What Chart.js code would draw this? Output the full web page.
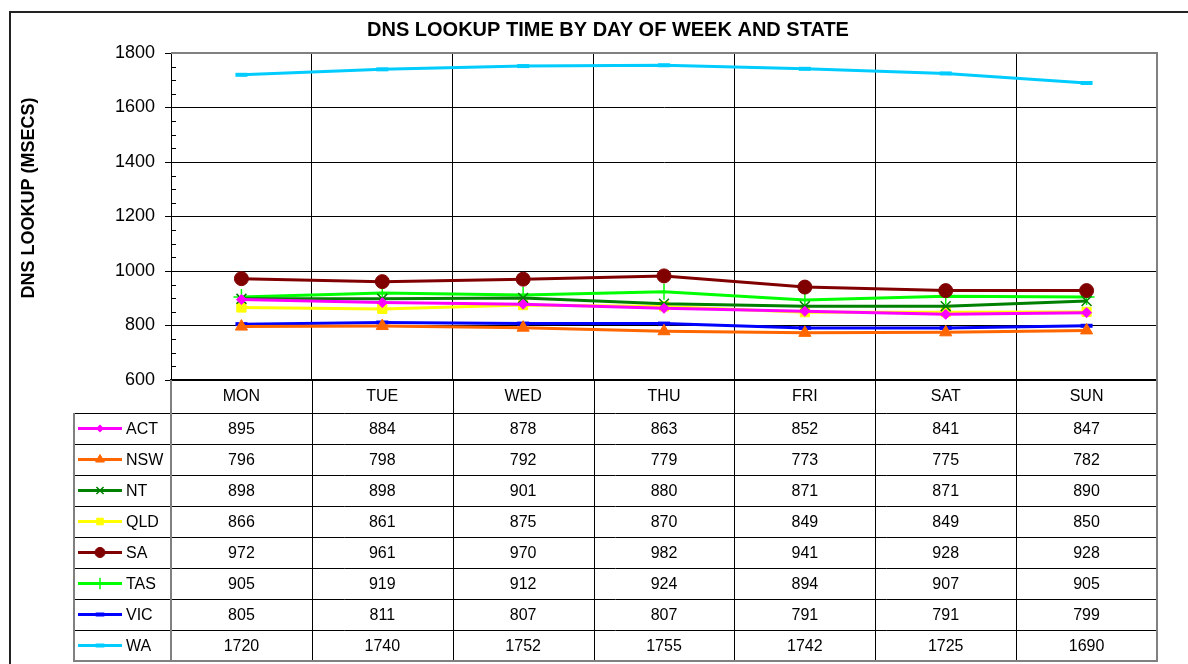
<!DOCTYPE html>
<html>
<head>
<meta charset="utf-8">
<script src="https://cdn.jsdelivr.net/npm/chart.js@4.4.1/dist/chart.umd.min.js"></script>
<style>
  html, body { margin: 0; padding: 0; background: #fff; }
  #wrap { width: 1188px; height: 664px; }
</style>
</head>
<body>
<div id="wrap"><canvas id="chart" width="1188" height="664"></canvas></div>
<script>
// data
const days = ['MON', 'TUE', 'WED', 'THU', 'FRI', 'SAT', 'SUN'];
const act = [895, 884, 878, 863, 852, 841, 847];
const nsw = [796, 798, 792, 779, 773, 775, 782];
const nt = [898, 898, 901, 880, 871, 871, 890];
const qld = [866, 861, 875, 870, 849, 849, 850];
const sa = [972, 961, 970, 982, 941, 928, 928];
const tas = [905, 919, 912, 924, 894, 907, 905];
const vic = [805, 811, 807, 807, 791, 791, 799];
const wa = [1720, 1740, 1752, 1755, 1742, 1725, 1690];
const yTicks = [600, 800, 1000, 1200, 1400, 1600, 1800];

const FONT = '"Liberation Sans", Arial, sans-serif';
const TITLE = 'DNS LOOKUP TIME BY DAY OF WEEK AND STATE';
const Y_TITLE = 'DNS LOOKUP (MSECS)';

const series = [
  { label: 'ACT', data: act, color: '#FF00FF', style: 'rectRot', r: 5, bw: 1 },
  { label: 'NSW', data: nsw, color: '#FF6600', style: 'triangle', r: 7, bw: 1 },
  { label: 'NT', data: nt, color: '#008000', style: 'crossRot', r: 7, bw: 1.5 },
  { label: 'QLD', data: qld, color: '#FFFF00', style: 'rect', r: 6.5, bw: 1 },
  { label: 'SA', data: sa, color: '#800000', style: 'circle', r: 7, bw: 1 },
  { label: 'TAS', data: tas, color: '#00FF00', style: 'cross', r: 8, bw: 1.5 },
  { label: 'VIC', data: vic, color: '#0000FF', style: 'line', r: 6, bw: 4 },
  { label: 'WA', data: wa, color: '#00CCFF', style: 'line', r: 6, bw: 4 },
];

const datasets = series.map((s) => ({
  label: s.label,
  data: s.data,
  borderColor: s.color,
  backgroundColor: s.color,
  borderWidth: 3,
  pointStyle: s.style,
  pointRadius: s.r,
  pointBorderWidth: s.bw,
  pointBorderColor: s.color,
  pointBackgroundColor: s.color,
  tension: 0,
  fill: false,
}));

// outer frame, titles, plot border, minor ticks
const framePlugin = {
  id: 'frame',
  beforeDraw(chart) {
    const ctx = chart.ctx;
    ctx.save();
    ctx.fillStyle = '#fff';
    ctx.fillRect(0, 0, chart.width, chart.height);
    ctx.strokeStyle = '#222';
    ctx.lineWidth = 2;
    ctx.strokeRect(10, 12, chart.width + 20, chart.height + 20);
    ctx.restore();
  },
  afterDraw(chart) {
    const ctx = chart.ctx;
    const a = chart.chartArea;
    const y = chart.scales.y;
    ctx.save();
    ctx.strokeStyle = '#808080';
    ctx.lineWidth = 2;
    ctx.beginPath();
    ctx.moveTo(a.left, a.top);
    ctx.lineTo(a.right, a.top);
    ctx.lineTo(a.right, a.bottom);
    ctx.stroke();
    // minor ticks every 50
    ctx.strokeStyle = '#000';
    ctx.lineWidth = 1;
    ctx.beginPath();
    for (let v = y.min; v <= y.max; v += 50) {
      if (v % 200 === 0) continue;
      const py = Math.round(y.getPixelForValue(v)) + 0.5;
      ctx.moveTo(a.left, py);
      ctx.lineTo(a.left + 5, py);
    }
    ctx.stroke();

    ctx.fillStyle = '#000';
    ctx.textAlign = 'center';
    ctx.textBaseline = 'middle';
    ctx.font = 'bold 20px ' + FONT;
    ctx.fillText(TITLE, 608, 30);
    ctx.translate(29, 198);
    ctx.rotate(-Math.PI / 2);
    ctx.font = 'bold 18px ' + FONT;
    ctx.fillText(Y_TITLE, 0, 0);
    ctx.restore();
  }
};

// data table under the plot
const tablePlugin = {
  id: 'dataTable',
  afterDraw(chart) {
    const ctx = chart.ctx;
    const x = chart.scales.x;
    const top = chart.chartArea.bottom;
    const headBottom = top + 33;
    const rowH = 31;
    const tableLeft = 74;
    const end = headBottom + rowH * series.length;
    const step = (x.right - x.left) / days.length;

    ctx.save();
    ctx.strokeStyle = '#000';
    ctx.lineWidth = 1;
    ctx.beginPath();
    for (let i = 0; i <= series.length; i++) {
      const py = Math.round(headBottom + i * rowH) + 0.5;
      ctx.moveTo(tableLeft, py);
      ctx.lineTo(x.right, py);
    }
    for (let i = 1; i < days.length; i++) {
      const px = Math.round(x.left + i * step) + 0.5;
      ctx.moveTo(px, top);
      ctx.lineTo(px, end);
    }
    ctx.stroke();

    ctx.strokeStyle = '#808080';
    ctx.lineWidth = 2;
    ctx.beginPath();
    ctx.moveTo(tableLeft, headBottom);
    ctx.lineTo(tableLeft, end);
    ctx.lineTo(x.right, end);
    ctx.lineTo(x.right, top);
    ctx.moveTo(x.left, top);
    ctx.lineTo(x.left, end);
    ctx.stroke();

    ctx.font = '16px ' + FONT;
    ctx.textBaseline = 'middle';
    series.forEach((s, r) => {
      const cy = headBottom + r * rowH + rowH / 2;
      // legend key, marker a bit smaller than on the plot
      ctx.strokeStyle = s.color;
      ctx.fillStyle = s.color;
      ctx.lineWidth = 3;
      ctx.beginPath();
      ctx.moveTo(78, cy);
      ctx.lineTo(122, cy);
      ctx.stroke();
      ctx.lineWidth = s.bw;
      Chart.helpers.drawPoint(ctx, { pointStyle: s.style, radius: s.r * 0.72, borderWidth: s.bw, rotation: 0 }, 100, cy);
      ctx.fillStyle = '#000';
      ctx.textAlign = 'left';
      ctx.fillText(s.label, 126, cy + 1);
      ctx.textAlign = 'center';
      s.data.forEach((v, i) => {
        ctx.fillText(String(v), x.getPixelForValue(i), cy + 1);
      });
    });
    ctx.restore();
  }
};

const myChart = document.getElementById('chart').getContext('2d');
new Chart(myChart, {
  type: 'line',
  data: { labels: days, datasets },
  plugins: [framePlugin, tablePlugin],
  options: {
    responsive: false,
    animation: false,
    layout: { padding: { left: 10, right: 31, top: 53, bottom: 0 } },
    plugins: {
      legend: { display: false },
      tooltip: { enabled: false },
      title: { display: false },
    },
    scales: {
      x: {
        offset: true,
        afterFit: (s) => { s.height = 284; },
        grid: { offset: true, color: '#000', drawTicks: false },
        border: { color: '#000', width: 2 },
        ticks: {
          color: '#000',
          padding: 7,
          font: { family: FONT, size: 16 },
        },
      },
      y: {
        min: 600,
        max: 1800,
        afterFit: (s) => { s.width = 161; },
        afterBuildTicks: (s) => { s.ticks = yTicks.map((v) => ({ value: v })); },
        grid: { color: '#000', tickLength: 6, tickColor: '#000' },
        border: { color: '#000', width: 1 },
        ticks: {
          color: '#000',
          padding: 10,
          font: { family: FONT, size: 18 },
          callback: (v) => String(v),
        },
      },
    },
  },
});
</script>
</body>
</html>
